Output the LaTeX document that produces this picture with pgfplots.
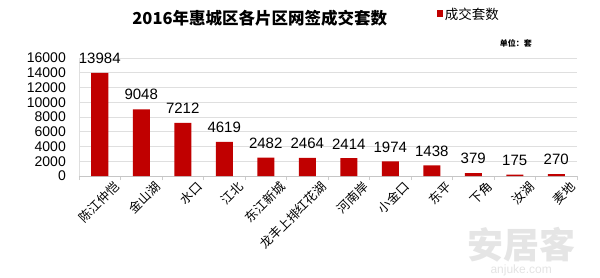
\documentclass[border=0pt]{standalone}
\usepackage{fontspec}
\usepackage{pgfplots}
\pgfplotsset{compat=1.18}
\setmainfont{Noto Sans CJK SC}
\newfontfamily\numfont{Liberation Sans}
\definecolor{barred}{HTML}{C00000}
\begin{document}
\begin{tikzpicture}[x=1bp,y=1bp]
\path[use as bounding box] (-79,-101) rectangle (521,176);
\begin{axis}[
  at={(0,0)}, anchor=south west,
  scale only axis, width=498bp, height=118bp,
  xmin=-0.5, xmax=11.5, ymin=0, ymax=16000,
  ytick={0,2000,...,16000},
  ymajorgrids, grid style={gray!25, line width=0.8bp},
  xtick={0,...,11},
  xticklabels={陈江仲恺,金山湖,水口,江北,东江新城,龙丰上排红花湖,河南岸,小金口,东平,下角,汝湖,麦地},
  x tick label style={rotate=45, anchor=north east, font=\fontsize{12.5bp}{13bp}\selectfont, inner sep=0bp, xshift=6bp, yshift=-12bp},
  minor xtick={-0.5,0.5,...,11.5},
  major tick length=0pt, minor tick length=4bp,
  tick align=outside,
  minor tick style={gray!40},
  axis x line*=bottom, axis y line*=left,
  x axis line style={gray!45, -},
  y axis line style={gray!25, -},
  /pgf/number format/1000 sep={},
  /pgf/number format/assume math mode=true,
  scaled y ticks=false,
  y tick label style={font=\numfont\fontsize{14bp}{14bp}\selectfont, inner sep=0bp, xshift=-13bp},
  ybar, bar width=17bp,
  nodes near coords,
  every node near coord/.append style={font=\numfont\fontsize{15bp}{15bp}\selectfont, inner sep=0pt, yshift=9bp, text=black},
  legend style={at={(0.718,1.365)}, anchor=west, draw=none, fill=none, font=\fontsize{13.5bp}{14bp}\selectfont, inner sep=0pt},
  legend image code/.code={\fill[barred] (0bp,-2bp) rectangle (6bp,5bp);},
  clip=false,
]
\addplot[fill=barred, draw=none] coordinates {
(0,13984) (1,9048) (2,7212) (3,4619) (4,2482) (5,2464)
(6,2414) (7,1974) (8,1438) (9,379) (10,175) (11,270)};
\addlegendentry{成交套数}
\node[font=\bfseries\fontsize{16.5bp}{18bp}\selectfont] at (rel axis cs:0.363,1.339) {2016年惠城区各片区网签成交套数};
\node[font=\bfseries\fontsize{8bp}{9bp}\selectfont] at (rel axis cs:0.877,1.125) {单位：套};
\node[font=\bfseries\fontsize{36bp}{36bp}\selectfont, text=gray!20] at (rel axis cs:0.888,-0.585) {安居客};
\node[font=\numfont\fontsize{12bp}{12bp}\selectfont, text=gray!22] at (rel axis cs:0.888,-0.8) {anjuke.com};
\end{axis}
\end{tikzpicture}
\end{document}
